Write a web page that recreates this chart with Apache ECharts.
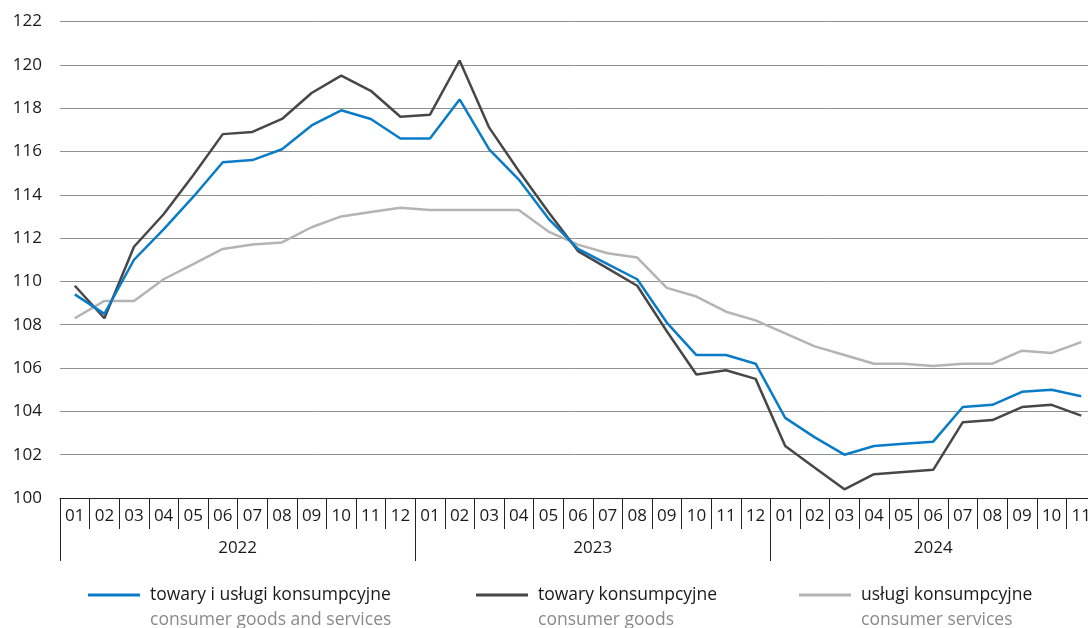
<!DOCTYPE html>
<html lang="pl">
<head>
<meta charset="utf-8">
<title>Wskaźniki cen</title>
<script src="https://cdn.jsdelivr.net/npm/echarts@6/dist/echarts.min.js"></script>
<style>
  html, body { margin: 0; padding: 0; background: #fff; }
  #chart { width: 1088px; height: 628px; }
</style>
</head>
<body>
<div id="chart"></div>
<script>
// etykiety osi X
var monthLabels = ['01','02','03','04','05','06','07','08','09','10','11','12',
                   '01','02','03','04','05','06','07','08','09','10','11','12',
                   '01','02','03','04','05','06','07','08','09','10','11'];
var yearLabels = ['2022', '2023', '2024'];
var yearMonthCounts = [12, 12, 11];

// serie
var seriesNames = ['towary i usługi konsumpcyjne', 'towary konsumpcyjne', 'usługi konsumpcyjne'];
var seriesNamesEn = ['consumer goods and services', 'consumer goods', 'consumer services'];

var goodsServices = [109.4,108.5,111.0,112.4,113.9,115.5,115.6,116.1,117.2,117.9,117.5,116.6,
                     116.6,118.4,116.1,114.7,112.9,111.5,110.8,110.1,108.1,106.6,106.6,106.2,
                     103.7,102.8,102.0,102.4,102.5,102.6,104.2,104.3,104.9,105.0,104.7];
var goods = [109.8,108.3,111.6,113.1,114.9,116.8,116.9,117.5,118.7,119.5,118.8,117.6,
             117.7,120.2,117.1,115.1,113.2,111.4,110.6,109.8,107.7,105.7,105.9,105.5,
             102.4,101.4,100.4,101.1,101.2,101.3,103.5,103.6,104.2,104.3,103.8];
var services = [108.3,109.1,109.1,110.1,110.8,111.5,111.7,111.8,112.5,113.0,113.2,113.4,
                113.3,113.3,113.3,113.3,112.3,111.7,111.3,111.1,109.7,109.3,108.6,108.2,
                107.6,107.0,106.6,106.2,106.2,106.1,106.2,106.2,106.8,106.7,107.2];

var colors = ['#0a7cc7', '#474747', '#b4b4b4'];
var font = 'Open Sans';

var gridLeft = 60, gridWidth = 1036;
var band = gridWidth / monthLabels.length;

// etykiety lat: na środku każdego roku
var yearTickIdx = {};
var yearAxisText = monthLabels.map(function () { return ''; });
var start = 0;
yearMonthCounts.forEach(function (n, i) {
    yearTickIdx[start] = true;
    if (n % 2 === 0) {
        yearAxisText[start + n / 2] = '{s|' + yearLabels[i] + '}';
    } else {
        yearAxisText[start + (n - 1) / 2] = '{c|' + yearLabels[i] + '}';
    }
    start += n;
});
yearTickIdx[start] = true;

var myChart = echarts.init(document.getElementById('chart'));

var legendLeft = [88, 476, 799];

var option = {
    animation: false,
    textStyle: { fontFamily: font },
    grid: {
        left: gridLeft, width: gridWidth, top: 21.5, height: 476.5,
        containLabel: false, outerBoundsMode: 'none'
    },
    legend: seriesNames.map(function (name, i) {
        return {
            data: [name],
            left: legendLeft[i],
            top: 561,
            padding: 0,
            icon: 'rect',
            itemWidth: 52,
            itemHeight: 3,
            selectedMode: false,
            formatter: function (n) {
                return '{p|\u00a0}\n{a|' + n + '}\n{b|' + seriesNamesEn[seriesNames.indexOf(n)] + '}';
            },
            textStyle: {
                rich: {
                    p: { fontFamily: font, fontSize: 17.5, lineHeight: 25 },
                    a: { fontFamily: font, fontSize: 17.5, color: '#1a1a1a', lineHeight: 25, padding: [0, 0, 0, 5] },
                    b: { fontFamily: font, fontSize: 17.5, color: '#8a8a8a', lineHeight: 25, padding: [0, 0, 0, 5] }
                }
            }
        };
    }),
    xAxis: [{
        type: 'category',
        data: monthLabels,
        boundaryGap: true,
        axisLine: { show: true, onZero: false, lineStyle: { color: '#222', width: 1 } },
        axisTick: { show: true, interval: 0, length: 31, lineStyle: { color: '#222', width: 1 } },
        axisLabel: { interval: 0, margin: 10, fontSize: 17, color: '#1a1a1a', fontFamily: font }
    }, {
        type: 'category',
        data: monthLabels,
        boundaryGap: true,
        position: 'bottom',
        axisLine: { show: false, onZero: false },
        axisTick: {
            show: true,
            length: 63,
            lineStyle: { color: '#222', width: 1 },
            interval: function (idx) { return !!yearTickIdx[idx]; }
        },
        axisLabel: {
            interval: 0,
            margin: 42,
            formatter: function (v, idx) { return yearAxisText[idx]; },
            rich: {
                s: { fontFamily: font, fontSize: 17, color: '#1a1a1a', padding: [0, band, 0, 0] },
                c: { fontFamily: font, fontSize: 17, color: '#1a1a1a' }
            }
        }
    }],
    yAxis: {
        type: 'value',
        min: 100,
        max: 122,
        interval: 2,
        axisLine: { show: false },
        axisTick: { show: false },
        axisLabel: { margin: 18, fontSize: 17, color: '#1a1a1a', fontFamily: font },
        splitLine: { lineStyle: { color: '#909090', width: 1 } }
    },
    series: [{
        name: seriesNames[2],
        type: 'line',
        data: services,
        color: colors[2],
        symbol: 'none',
        lineStyle: { width: 2.5, color: colors[2] }
    }, {
        name: seriesNames[1],
        type: 'line',
        data: goods,
        color: colors[1],
        symbol: 'none',
        lineStyle: { width: 2.5, color: colors[1] }
    }, {
        name: seriesNames[0],
        type: 'line',
        data: goodsServices,
        color: colors[0],
        symbol: 'none',
        lineStyle: { width: 2.5, color: colors[0] }
    }]
};

myChart.setOption(option);

window.onresize = function () {
    myChart.resize();
};
</script>
</body>
</html>
